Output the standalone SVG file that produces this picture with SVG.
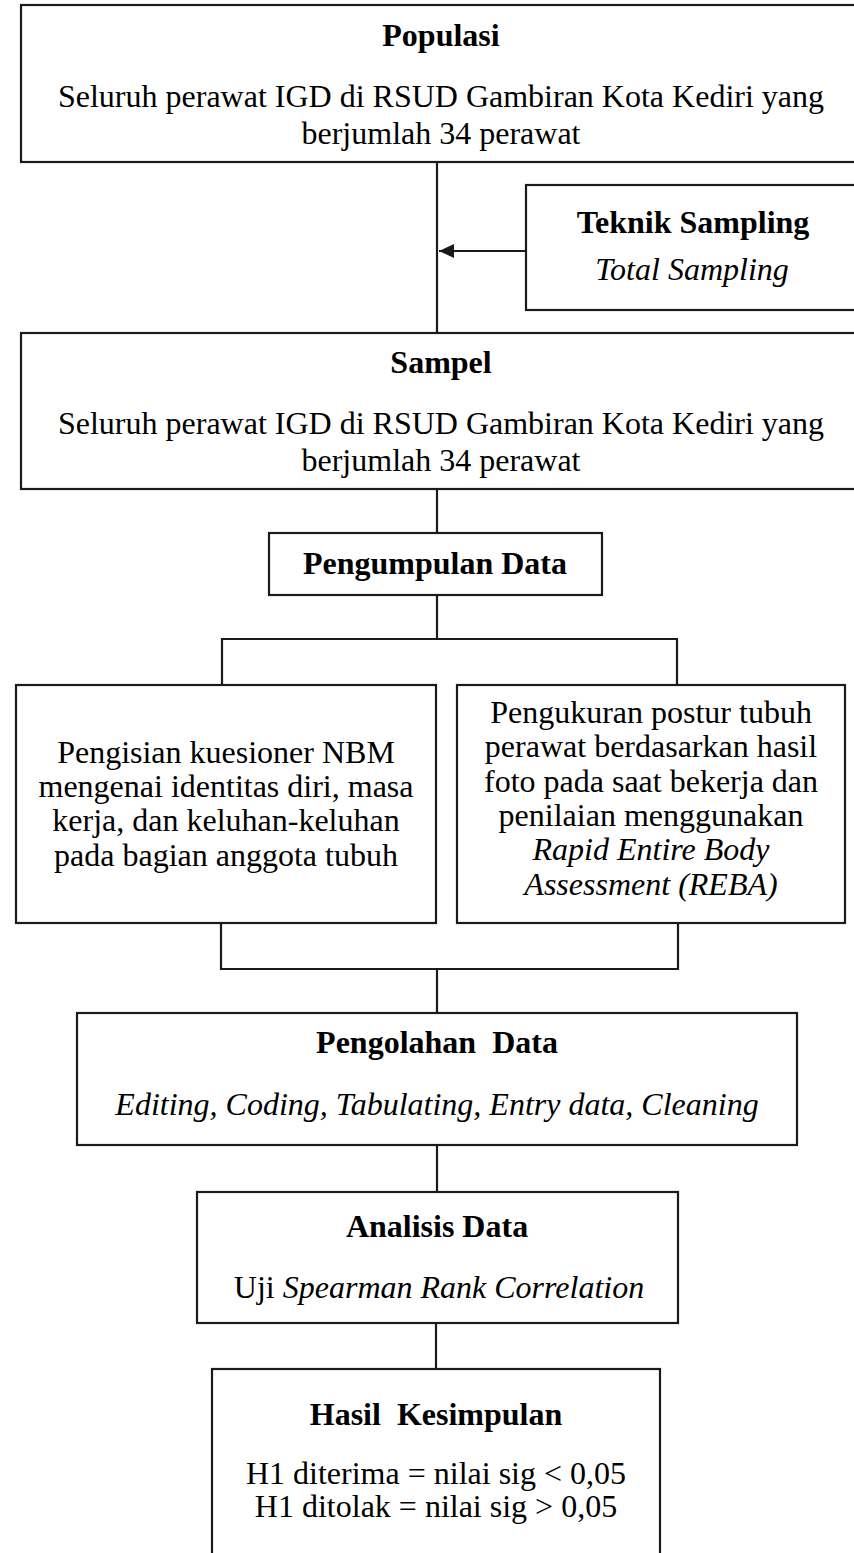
<svg xmlns="http://www.w3.org/2000/svg" width="854" height="1553" viewBox="0 0 854 1553">
<style>
.box{fill:#fff;stroke:#1a1a1a;stroke-width:2.2}
.con{fill:none;stroke:#1a1a1a;stroke-width:2.2}
text{font-family:"Liberation Serif","Times New Roman",serif;font-size:32px;fill:#000;text-anchor:middle}
.h{font-weight:bold}
.i{font-style:italic}
</style>
<defs>
<marker id="arr" markerUnits="userSpaceOnUse" markerWidth="16" markerHeight="16" refX="15" refY="7" orient="auto">
<path d="M0,0 L15,7 L0,14 Z" fill="#1a1a1a"/>
</marker>
<clipPath id="clipTop"><rect x="0" y="0" width="854" height="151"/></clipPath>
<clipPath id="clipSampel"><rect x="0" y="333" width="854" height="145"/></clipPath>
</defs>

<g id="connectors">
<line class="con" x1="437" y1="162" x2="437" y2="333"/>
<line class="con" x1="526" y1="251" x2="439" y2="251" marker-end="url(#arr)"/>
<line class="con" x1="437" y1="489" x2="437" y2="533"/>
<line class="con" x1="437" y1="595" x2="437" y2="639"/>
<path class="con" d="M222,685 V639 H677 V685"/>
<path class="con" d="M221,923 V969 H678 V923"/>
<line class="con" x1="437" y1="969" x2="437" y2="1013"/>
<line class="con" x1="437" y1="1145" x2="437" y2="1192"/>
<line class="con" x1="436" y1="1323" x2="436" y2="1369"/>
</g>

<g id="populasi">
<rect class="box" x="21" y="5" width="860" height="157"/>
<text class="h" x="441" y="46">Populasi</text>
<text x="441" y="107">Seluruh perawat IGD di RSUD Gambiran Kota Kediri yang</text>
<text x="441" y="144" clip-path="url(#clipTop)">berjumlah 34 perawat</text>
</g>

<g id="teknik-sampling">
<rect class="box" x="526" y="185" width="340" height="125"/>
<text class="h" x="693" y="233">Teknik Sampling</text>
<text class="i" x="692" y="280">Total Sampling</text>
</g>

<g id="sampel">
<rect class="box" x="21" y="333" width="860" height="156"/>
<text class="h" x="441" y="373">Sampel</text>
<text x="441" y="434">Seluruh perawat IGD di RSUD Gambiran Kota Kediri yang</text>
<text x="441" y="471" clip-path="url(#clipSampel)">berjumlah 34 perawat</text>
</g>

<g id="pengumpulan-data">
<rect class="box" x="269" y="533" width="333" height="62"/>
<text class="h" x="435" y="574">Pengumpulan Data</text>
</g>

<g id="kuesioner">
<rect class="box" x="16" y="685" width="420" height="238"/>
<text x="226" y="763">Pengisian kuesioner NBM</text>
<text x="226" y="797">mengenai identitas diri, masa</text>
<text x="226" y="831">kerja, dan keluhan-keluhan</text>
<text x="226" y="866">pada bagian anggota tubuh</text>
</g>

<g id="pengukuran">
<rect class="box" x="457" y="685" width="388" height="238"/>
<text x="651" y="723">Pengukuran postur tubuh</text>
<text x="651" y="757">perawat berdasarkan hasil</text>
<text x="651" y="792">foto pada saat bekerja dan</text>
<text x="651" y="826">penilaian menggunakan</text>
<text class="i" x="651" y="860">Rapid Entire Body</text>
<text class="i" x="651" y="895">Assessment (REBA)</text>
</g>

<g id="pengolahan-data">
<rect class="box" x="77" y="1013" width="720" height="132"/>
<text class="h" x="437" y="1053">Pengolahan&#160; Data</text>
<text class="i" x="437" y="1115">Editing, Coding, Tabulating, Entry data, Cleaning</text>
</g>

<g id="analisis-data">
<rect class="box" x="197" y="1192" width="481" height="131"/>
<text class="h" x="437" y="1237">Analisis Data</text>
<text x="439" y="1298">Uji <tspan class="i">Spearman Rank Correlation</tspan></text>
</g>

<g id="hasil-kesimpulan">
<rect class="box" x="212" y="1369" width="448" height="200"/>
<text class="h" x="436" y="1425">Hasil&#160; Kesimpulan</text>
<text x="436" y="1484">H1 diterima = nilai sig &lt; 0,05</text>
<text x="436" y="1517">H1 ditolak = nilai sig &gt; 0,05</text>
</g>
</svg>
